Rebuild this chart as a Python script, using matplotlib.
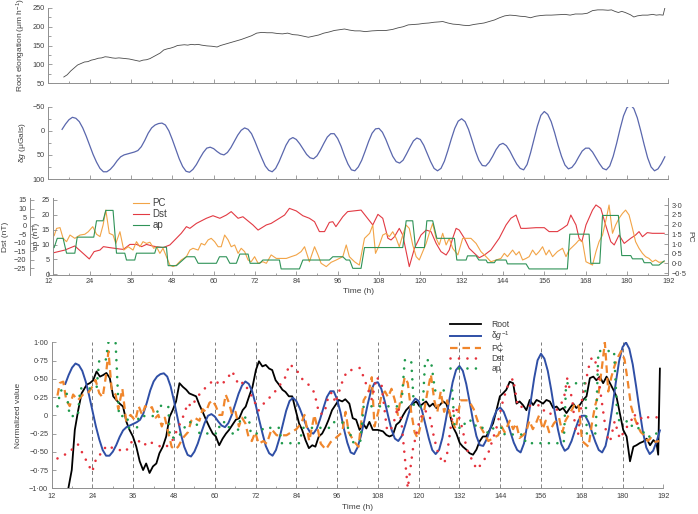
import numpy as np
import matplotlib
matplotlib.use('Agg')
import matplotlib.pyplot as plt
from matplotlib.ticker import MultipleLocator, FuncFormatter, NullFormatter
from matplotlib.lines import Line2D

plt.rcParams['font.family'] = ['Liberation Sans', 'DejaVu Sans']
plt.rcParams['font.size'] = 6
plt.rcParams['mathtext.fontset'] = 'custom'
plt.rcParams['mathtext.rm'] = 'Liberation Sans'
plt.rcParams['mathtext.it'] = 'Liberation Sans:italic'

# ---- panel 1: root elongation (um/h)
root_t = [16.5, 17.5, 18.5, 19.5, 20.5, 21.5, 22.5, 23.5, 24.5, 25.5, 26.5, 27.5, 28.5, 29.5, 30.5,
          31.5, 32.5, 33.5, 34.5, 35.5, 36.5, 37.5, 38.5, 39.5, 40.5, 41.5, 42.5, 43.5, 44.5, 45.5,
          46.5, 47.5, 48.5, 49.5, 50.5, 51.5, 52.5, 53.5, 54.5, 55.5, 56.5, 58, 59.5, 61, 62,
          63.5, 65, 66.5, 68, 69.5, 71, 72.5, 74, 75.5, 77, 78.5, 80, 81.5, 83, 84.5,
          86, 87.5, 89, 90.5, 92, 93.5, 95, 96.5, 98, 99.5, 101, 102.5, 104, 106, 108,
          110, 112, 113.5, 115, 116.5, 118, 119.5, 121, 122.5, 124, 125.5, 126.5, 128, 129.5, 131,
          132.5, 134, 135.5, 137, 138.5, 140, 141.5, 143, 144.5, 146, 147.5, 149, 150.5, 152, 153.5,
          155, 156.5, 158, 160, 162, 163.5, 165, 167, 168.5, 170, 171.5, 173, 174.5, 175.5, 176.5,
          177.5, 178.5, 179.5, 181, 182, 183, 184.5, 186, 187.5, 188.5, 189.5, 190.5, 191]
root_v = [66, 72, 82, 90, 98, 102, 106, 107, 111, 113, 116, 117, 120, 119, 117,
          116, 117, 116, 115, 114, 112, 110, 108, 111, 112, 115, 120, 125, 130, 138,
          141, 143, 146, 150, 151, 152, 151, 153, 152, 153, 151, 149, 148, 146, 150,
          154, 158, 162, 166, 171, 176, 183, 185, 184, 184, 182, 181, 183, 179, 178,
          175, 172, 175, 178, 183, 186, 190, 192, 194, 191, 189, 189, 187, 189, 190,
          190, 193, 197, 200, 205, 206, 207, 209, 210, 212, 213, 214, 210, 207, 206,
          204, 203, 206, 208, 210, 214, 218, 224, 229, 231, 230, 228, 227, 224, 228,
          230, 231, 231, 232, 233, 231, 234, 234, 236, 243, 245, 245, 244, 245, 241,
          238, 241, 238, 232, 226, 229, 231, 231, 233, 231, 232, 231, 250]

# ---- panel 2: delta g (uGals), hourly from 16 h
dg_t = np.arange(16, 192)
dg_v = [-3, -14, -23, -28, -26, -19, -6, 11, 30, 49,
        65, 78, 85, 85, 80, 72, 62, 54, 50, 48,
        46, 44, 41, 33, 20, 5, -6, -12, -15, -16,
        -12, 0, 18, 38, 58, 74, 84, 86, 80, 70,
        57, 45, 36, 34, 37, 43, 48, 50, 45, 35,
        22, 9, -1, -6, -3, 6, 22, 40, 57, 73,
        82, 85, 78, 64, 47, 30, 18, 14, 18, 27,
        38, 49, 56, 58, 52, 40, 26, 13, 6, 6,
        16, 32, 52, 69, 81, 83, 75, 61, 42, 22,
        5, -4, -5, 3, 18, 36, 53, 64, 67, 61,
        48, 34, 21, 15, 18, 30, 47, 64, 78, 83,
        78, 63, 41, 17, -5, -20, -25, -19, -3, 19,
        42, 61, 72, 73, 65, 53, 39, 29, 26, 31,
        42, 56, 69, 78, 81, 70, 46, 18, -10, -32,
        -40, -34, -19, 4, 30, 53, 71, 79, 76, 67,
        54, 42, 36, 36, 44, 56, 68, 78, 81, 73,
        53, 26, -4, -31, -48, -54, -46, -27, 0, 29,
        56, 75, 83, 79, 68, 54]

# ---- panel 3: PC index, Dst (nT), ap (nT)
pc_t = [13.7, 14.4, 15.4, 16.3, 17.3, 18.3, 19.7, 21.2, 22.6, 23.6, 24.9, 26.0, 27.0, 27.9, 28.7,
        29.7, 30.8, 31.6, 32.8, 33.9, 35.2, 36.6, 37.6, 38.6, 39.5, 40.5, 41.5, 42.6, 43.4, 44.4,
        45.3, 46.3, 47.3, 48.2, 49.2, 50.6, 52.1, 53.1, 54.0, 55.5, 56.4, 57.4, 58.4, 59.3, 60.3,
        61.3, 62.2, 63.2, 64.2, 65.1, 66.1, 67.1, 68.0, 69.0, 70.0, 70.9, 71.9, 72.9, 74.3, 75.3,
        76.7, 78.2, 79.6, 81.1, 82.5, 84.0, 85.4, 86.4, 87.8, 89.3, 90.3, 91.2, 92.7, 94.1, 95.6,
        97.5, 98.5, 99.4, 100.9, 102.3, 103.8, 105.3, 106.2, 107.0, 108.1, 109.1, 110.1, 111.0, 112.0, 113.0,
        113.9, 114.9, 115.9, 116.8, 117.8, 118.8, 119.7, 120.7, 121.7, 122.6, 123.6, 124.6, 125.5, 126.5, 127.5,
        128.4, 129.4, 130.9, 132.3, 133.3, 134.7, 136.2, 137.6, 139.1, 140.5, 142.0, 143.4, 144.4, 145.3, 146.8,
        147.8, 148.7, 149.7, 150.7, 151.6, 152.6, 153.6, 154.5, 155.5, 156.5, 157.4, 158.4, 159.8, 161.3, 162.3,
        163.2, 164.2, 165.2, 166.1, 167.1, 168.1, 169.0, 170.0, 171.0, 171.9, 172.9, 173.9, 174.8, 175.8, 176.7,
        177.7, 178.7, 179.6, 180.6, 181.6, 182.5, 183.5, 184.5, 185.4, 186.4, 187.4, 188.3, 189.3, 190.8]
pc_v = [1.43, 1.80, 1.84, 1.29, 1.12, 1.46, 1.29, 1.46, 1.50, 1.63, 1.89, 1.50, 1.38, 1.97, 2.74,
        1.55, 1.46, 1.03, 1.63, 0.69, 0.86, 0.69, 1.12, 0.86, 1.12, 1.03, 1.09, 0.78, 0.86, 0.52,
        0.78, 0.35, -0.08, -0.16, -0.08, 0.18, 0.35, 0.69, 0.78, 0.69, 1.03, 0.95, 1.21, 1.29, 1.12,
        0.86, 0.86, 1.46, 1.21, 0.86, 0.95, 0.52, 0.78, 0.61, 0.18, 0.09, 0.35, 0.01, 0.09, 0.01,
        0.44, 0.26, 0.26, 0.26, 0.35, 0.44, 0.61, 0.86, 0.09, 0.86, 0.44, 0.01, -0.16, 0.06, 0.18,
        0.35, 0.95, 0.35, 0.09, -0.08, 1.29, 1.55, 1.97, 0.52, 0.95, 1.46, 1.55, 1.38, 1.63, 1.29,
        0.86, 1.46, 1.97, 1.80, 0.95, 0.35, 0.18, 0.61, 1.03, 1.55, 2.05, 1.29, 0.95, 1.55, 0.95,
        1.29, 0.78, 0.44, 1.29, 1.29, 1.29, 1.03, 0.61, 0.35, 0.09, 0.18, 0.26, 0.52, 0.35, 0.69,
        0.44, 0.61, 0.18, 0.26, 0.35, 0.69, 0.44, 0.61, 0.86, 0.44, 0.69, 0.35, 0.61, 0.78, 0.35,
        0.69, 0.86, 1.03, 1.21, 1.12, 0.09, 0.01, -0.08, 0.61, 1.12, 1.46, 2.23, 3.00, 1.55, 1.97,
        2.32, 2.57, 2.74, 2.49, 1.80, 1.12, 0.78, 0.52, 0.35, 0.26, 0.09, 0.18, 0.06, 0.09]

dst_t = [13.7, 16.8, 19.7, 23.9, 25.3, 27.0, 28.0, 29.9, 32.8, 33.8, 35.7, 37.6, 39.1, 40.5, 42.4,
         45.3, 47.3, 49.2, 50.6, 52.1, 53.1, 55.0, 57.9, 59.8, 61.8, 63.7, 65.1, 67.1, 68.5, 71.4,
         72.9, 75.3, 76.7, 79.1, 80.6, 82.0, 84.0, 85.9, 87.8, 89.3, 90.7, 92.2, 93.6, 94.6, 95.5,
         97.5, 98.9, 102.8, 106.2, 107.7, 109.1, 110.6, 111.5, 112.5, 113.9, 114.9, 116.8, 118.3, 120.2, 121.7,
         123.1, 124.6, 126.0, 127.5, 128.4, 129.4, 130.4, 131.3, 132.8, 134.2, 135.7, 137.1, 138.6, 140.5, 142.9,
         144.9, 146.3, 147.8, 149.2, 150.7, 153.6, 156.0, 157.4, 159.8, 161.3, 162.7, 163.7, 165.2, 166.1, 166.9,
         168.1, 170.0, 171.0, 172.4, 173.8, 175.3, 176.3, 177.7, 179.2, 181.1, 182.5, 183.5, 184.5, 185.9, 187.4,
         190.8]
dst_v = [-15.8, -14.3, -11.9, -19.5, -15.2, -14.3, -12.3, -12.9, -13.7, -13.9, -11.0, -11.0, -12.3, -11.0, -12.0,
         -12.9, -11.3, -7.4, -4.5, -0.6, -1.6, 1.3, 4.3, 5.8, 4.3, 6.2, 8.2, 4.3, 5.2, 0.4,
         -2.6, 0.4, 1.3, 4.3, 6.2, 10.1, 8.6, 5.8, 4.3, 2.3, -3.5, -3.5, 1.9, 2.3, -0.6,
         5.2, 8.2, 9.1, 0.4, 6.6, 4.3, -7.4, -8.4, -6.5, -1.6, -5.5, -24.0, -13.3, -5.5, -2.6,
         -3.5, -10.4, -15.2, -17.2, -14.3, -7.4, -1.6, -2.6, -7.4, -13.3, -16.2, -18.8, -17.2, -14.3, -7.4,
         0.4, 4.3, 6.2, -1.6, -1.6, -1.2, -1.2, -3.5, -3.5, -1.6, 0.4, 6.2, 0.4, -7.4, -9.4,
         0.4, 9.1, 12.1, 10.1, 0.4, -9.4, -11.3, -5.5, -10.4, -7.4, -5.5, -3.5, -6.5, -4.1, -4.5,
         -4.5]

ap_t = [13.7, 14.6, 16.3, 17.3, 19.7, 20.4, 25.2, 26.0, 27.9, 28.7, 30.8, 31.8, 34.2, 34.7, 37.1,
        37.6, 42.9, 43.4, 46.3, 46.8, 49.2, 52.1, 54.5, 55.5, 60.8, 61.7, 63.7, 64.7, 66.6, 67.6,
        70.0, 70.6, 73.4, 74.3, 79.1, 79.6, 84.9, 85.9, 93.6, 94.6, 97.5, 98.5, 99.5, 100.4, 102.8,
        103.8, 114.9, 115.9, 117.8, 118.6, 121.2, 121.9, 123.6, 124.8, 129.9, 130.6, 133.3, 133.7, 136.2, 137.0,
        139.1, 139.5, 141.5, 142.0, 144.9, 145.3, 150.7, 151.6, 162.7, 163.4, 169.0, 169.5, 172.1, 172.9, 177.5,
        178.5, 181.1, 181.6, 184.5, 185.0, 186.9, 187.4, 189.3, 190.8]
ap_v = [9.0, 12.1, 12.1, 7.1, 7.1, 12.5, 12.5, 18.0, 18.0, 21.5, 21.5, 7.1, 7.1, 4.8, 4.8,
        7.1, 7.1, 9.1, 9.1, 2.9, 2.9, 5.9, 5.9, 3.7, 3.7, 5.9, 5.9, 3.7, 3.7, 6.8,
        6.8, 3.7, 3.7, 4.8, 4.8, 1.8, 1.8, 4.8, 4.8, 5.9, 5.9, 4.8, 4.8, 2.0, 2.0,
        9.0, 9.0, 18.0, 18.0, 9.0, 9.0, 18.0, 18.0, 12.1, 12.1, 4.8, 4.8, 6.2, 6.2, 4.8,
        4.8, 3.9, 3.9, 4.8, 4.8, 3.5, 3.5, 1.8, 1.8, 13.5, 13.5, 3.7, 3.7, 19.8, 19.8,
        6.3, 6.3, 5.2, 5.2, 3.9, 3.9, 3.1, 3.1, 4.5]

# ---- panel 4: detrended, normalized root elongation
rootn_t = [16.9, 17.9, 18.8, 19.8, 20.8, 22.3, 23.2, 24.2, 25.2, 26.2, 27.1, 28.1, 29.1, 30.1, 31.0,
           32.0, 33.0, 34.0, 34.9, 35.9, 36.9, 37.9, 38.9, 39.8, 40.8, 41.8, 42.8, 43.7, 44.7, 45.7,
           46.7, 47.6, 48.6, 49.6, 50.6, 51.6, 52.5, 53.5, 54.5, 55.5, 56.4, 57.4, 58.4, 59.4, 60.3,
           61.3, 62.3, 63.3, 64.2, 65.2, 66.2, 67.2, 68.2, 69.1, 70.1, 71.1, 72.1, 73.0, 74.0, 75.0,
           76.0, 76.9, 77.9, 78.9, 79.9, 80.8, 81.8, 82.8, 83.8, 84.8, 85.7, 86.7, 87.7, 88.7, 89.6,
           90.6, 91.6, 92.6, 93.5, 94.5, 95.5, 96.5, 97.5, 98.4, 99.6, 100.6, 101.6, 102.6, 103.6, 104.6,
           105.5, 106.5, 108.0, 109.5, 110.5, 111.4, 112.4, 113.4, 114.4, 115.4, 116.3, 117.3, 118.3, 119.3, 120.3,
           121.3, 122.2, 123.2, 124.2, 125.2, 126.2, 127.2, 128.1, 129.1, 130.1, 131.1, 132.1, 133.0, 134.0, 135.0,
           136.0, 137.0, 137.9, 138.9, 139.9, 140.9, 141.9, 142.9, 143.9, 144.8, 145.8, 146.8, 147.8, 148.8, 149.7,
           150.7, 151.7, 152.7, 153.7, 154.7, 155.6, 156.6, 157.6, 158.6, 159.6, 160.6, 161.5, 162.5, 163.5, 164.5,
           165.5, 166.4, 167.4, 168.4, 169.4, 170.4, 171.4, 172.3, 173.3, 174.3, 175.3, 176.3, 177.3, 178.2, 179.2,
           180.2, 181.2, 182.2, 183.2, 184.1, 185.1, 186.1, 187.1, 188.1, 189.1, 190.0, 190.5, 191.0]
rootn_v = [-1.0, -0.75, -0.2, 0.07, 0.30, 0.42, 0.44, 0.48, 0.60, 0.53, 0.55, 0.58, 0.51, 0.26, 0.21,
           0.16, 0.12, -0.09, -0.20, -0.29, -0.43, -0.63, -0.75, -0.66, -0.79, -0.70, -0.66, -0.52, -0.43, -0.29,
           -0.02, 0.07, 0.19, 0.44, 0.39, 0.35, 0.30, 0.28, 0.26, 0.14, 0.05, -0.06, -0.16, -0.25, -0.29,
           -0.41, -0.32, -0.25, -0.20, -0.13, -0.06, -0.04, 0.07, 0.12, 0.26, 0.39, 0.62, 0.74, 0.67, 0.69,
           0.64, 0.62, 0.48, 0.42, 0.35, 0.32, 0.26, 0.26, 0.07, -0.11, -0.20, -0.34, -0.45, -0.41, -0.43,
           -0.29, -0.25, -0.16, -0.06, 0.07, 0.14, 0.21, 0.19, 0.22, 0.16, -0.04, -0.06, -0.20, -0.11, -0.18,
           -0.09, -0.20, -0.20, -0.22, -0.27, -0.29, -0.27, -0.13, -0.09, 0.0, 0.07, 0.12, 0.16, 0.19, 0.12,
           0.16, 0.19, 0.12, 0.16, 0.10, 0.14, 0.19, 0.16, 0.03, -0.16, -0.25, -0.38, -0.43, -0.47, -0.52,
           -0.54, -0.47, -0.36, -0.29, -0.29, -0.20, -0.11, 0.07, 0.26, 0.30, 0.35, 0.46, 0.44, 0.16, 0.19,
           0.14, 0.07, 0.21, 0.14, 0.21, 0.19, 0.16, 0.21, 0.19, 0.10, 0.12, 0.07, 0.10, 0.03, 0.10,
           0.16, 0.10, 0.14, 0.21, 0.26, 0.51, 0.53, 0.48, 0.53, 0.44, 0.53, 0.44, 0.35, 0.26, 0.03,
           -0.20, -0.29, -0.63, -0.43, -0.41, -0.38, -0.36, -0.32, -0.41, -0.34, -0.38, -0.54, 0.64]

x_ticks = list(range(12, 193, 12))
guide_hours = list(range(24, 181, 12))

GREY = '#8f8f8f'
TXT = '#404040'
TICK_FS = 5.3
W, H = 698, 514


def box(x0, y0, x1, y1):
    return [x0 / W, 1 - y1 / H, (x1 - x0) / W, (y1 - y0) / H]


def dotfmt(nd):
    def f(v, pos):
        if abs(v) < 1e-9 and nd == 2:
            return '0'
        s = f'{abs(v):.{nd}f}'.replace('.', '\u00b7')
        return ('\u2212' + s) if v < -1e-9 else s
    return FuncFormatter(f)


def style(ax):
    for s in ['top', 'right']:
        ax.spines[s].set_visible(False)
    for s in ax.spines.values():
        s.set_color(GREY)
        s.set_linewidth(0.7)
    ax.tick_params(which='both', direction='in', color=GREY, labelcolor=TXT,
                   width=0.6, labelsize=TICK_FS, pad=2.5)
    ax.tick_params(which='major', length=3)
    ax.tick_params(which='minor', length=1.8)
    ax.set_xlim(12, 192)
    ax.xaxis.set_major_locator(MultipleLocator(12))
    ax.xaxis.set_minor_locator(MultipleLocator(6))


def normalize(t, v):
    t = np.asarray(t, float)
    v = np.asarray(v, float)
    m = np.trapezoid(v, t) / (t[-1] - t[0])
    d = v - m
    return d / np.abs(d).max()


fig = plt.figure(figsize=(W / 100, H / 100), dpi=100)

# panel 1
ax1 = fig.add_axes(box(48.3, 8, 668.3, 83))
style(ax1)
ax1.plot(root_t, root_v, color='#4a4a4a', lw=0.6)
ax1.set_ylim(50, 250)
ax1.yaxis.set_major_locator(MultipleLocator(50))
ax1.yaxis.set_minor_locator(MultipleLocator(25))
ax1.xaxis.set_major_formatter(NullFormatter())
ax1.set_ylabel('Root elongation (\u03bcm h$^{-1}$)', color=TXT)
ax1.yaxis.set_label_coords(-0.033, 0.5)

# panel 2
ax2 = fig.add_axes(box(48.3, 106.7, 668.3, 179))
style(ax2)
ax2.plot(dg_t, dg_v, color='#5a67ad', lw=0.9)
ax2.set_ylim(100, -50)
ax2.yaxis.set_major_locator(MultipleLocator(50))
ax2.yaxis.set_minor_locator(MultipleLocator(25))
ax2.xaxis.set_major_formatter(NullFormatter())
ax2.set_ylabel('\u03b4$\\mathit{g}$ (\u03bcGals)', color=TXT)
ax2.yaxis.set_label_coords(-0.033, 0.5)

# panel 3
ax3 = fig.add_axes(box(48.3, 198, 668.3, 275))
style(ax3)
ax3.spines['left'].set_position(('data', 13.5))
ax3.set_ylim(-0.24, 25.67)
ax3.yaxis.set_major_locator(MultipleLocator(5))
ax3.set_xticks(x_ticks)
ax3.set_xlabel('Time (h)', color=TXT, labelpad=1.5)
ax3.set_ylabel('ap (nT)', color=TXT)
ax3.yaxis.set_label_coords(-0.014, 0.5)

axd = ax3.twinx()
for s in ['right', 'top', 'bottom']:
    axd.spines[s].set_visible(False)
axd.spines['left'].set_visible(True)
axd.spines['left'].set_position(('outward', 13.2))
axd.spines['left'].set_color(GREY)
axd.spines['left'].set_linewidth(0.7)
axd.yaxis.set_ticks_position('left')
axd.yaxis.set_label_position('left')
axd.tick_params(direction='in', color=GREY, labelcolor=TXT, width=0.6, length=3,
                labelsize=TICK_FS, pad=2.5)
axd.set_ylim(-28.9, 16.17)
axd.set_yticks(list(range(-25, 16, 5)))
axd.set_ylabel('Dst (nT)', color=TXT)
axd.yaxis.set_label_coords(-0.063, 0.5)

axp = ax3.twinx()
for s in ['left', 'top', 'bottom']:
    axp.spines[s].set_visible(False)
axp.spines['right'].set_color(GREY)
axp.spines['right'].set_linewidth(0.7)
axp.tick_params(direction='in', color=GREY, labelcolor=TXT, width=0.6, length=3,
                labelsize=TICK_FS, pad=2.5)
axp.set_ylim(-0.59, 3.36)
axp.yaxis.set_major_locator(MultipleLocator(0.5))
axp.yaxis.set_major_formatter(dotfmt(1))
axp.set_ylabel('PC', color=TXT, rotation=270, labelpad=4.5)

c_pc, c_dst, c_ap = '#f2a447', '#e23a43', '#2f9358'
axp.plot(pc_t, pc_v, color=c_pc, lw=0.8)
axd.plot(dst_t, dst_v, color=c_dst, lw=0.8)
ax3.plot(ap_t, ap_v, color=c_ap, lw=0.8, zorder=5)
ax3.set_zorder(axp.get_zorder() + 1)
ax3.patch.set_visible(False)
h3 = [Line2D([], [], color=c_pc, lw=0.8), Line2D([], [], color=c_dst, lw=0.8),
      Line2D([], [], color=c_ap, lw=0.8)]
ax3.legend(h3, ['PC', 'Dst', 'ap'], loc='upper left', bbox_to_anchor=(0.137, 1.0),
           frameon=False, borderpad=0, borderaxespad=0, handlelength=1.6,
           handletextpad=0.4, labelspacing=0.1, fontsize=7, labelcolor=TXT)

# panel 4
ax4 = fig.add_axes(box(51.7, 342.3, 663.3, 488.3))
style(ax4)
ax4.set_ylim(-1, 1)
ax4.yaxis.set_major_locator(MultipleLocator(0.25))
ax4.yaxis.set_major_formatter(dotfmt(2))
ax4.set_xticks(x_ticks)
ax4.tick_params(axis='x', pad=3.5)
for h in guide_hours:
    ax4.axvline(h, color='#7a7a7a', lw=0.7, ls=(0, (4, 3)), zorder=1)

dots = dict(lw=1.9, ls=(0, (0.01, 3.2)), dash_capstyle='round')
ax4.plot(rootn_t, rootn_v, color='black', lw=1.3, label='Root', zorder=3)
ax4.plot(dg_t, normalize(dg_t, -np.asarray(dg_v, float)), color='#2f4fa6', lw=1.4,
         label='\u03b4$\\mathit{g}^{-1}$', zorder=3)
ax4.plot(pc_t, normalize(pc_t, pc_v), color='#f0862c', lw=1.6, ls=(0, (3.4, 2.2)),
         label='PC', zorder=3)
ax4.plot(dst_t, normalize(dst_t, dst_v), color='#e5323c', label='Dst', zorder=4, **dots)
ax4.plot(ap_t, normalize(ap_t, ap_v), color='#1f9a4c', label='ap', zorder=4, **dots)
ax4.legend(loc='upper left', bbox_to_anchor=(0.651, 1.155), frameon=False, borderpad=0,
           borderaxespad=0, handlelength=3.6, handletextpad=1.2, labelspacing=0.1,
           fontsize=6.2, labelcolor=TXT)
ax4.set_xlabel('Time (h)', color=TXT, labelpad=3)
ax4.set_ylabel('Normalized value', color=TXT)
ax4.yaxis.set_label_coords(-0.048, 0.5)

fig.savefig('out.png', dpi=100)
